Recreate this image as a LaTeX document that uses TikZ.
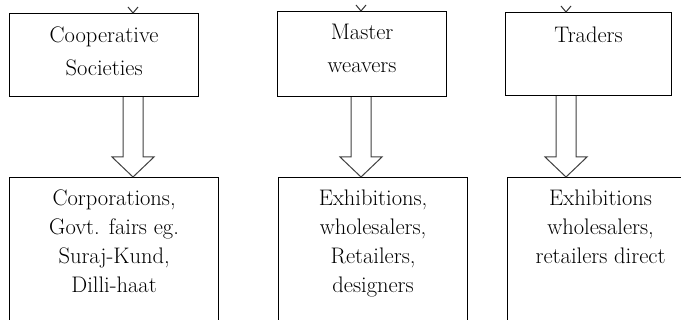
\documentclass[tikz,border=0pt]{standalone}
\usepackage{tikz}
\usetikzlibrary{positioning,calc}

\tikzset{
  box/.style={draw, line width=1.2pt, anchor=north west, inner sep=0pt},
  toptext/.style={font=\fontsize{22.5}{33}\selectfont},
  lowtext/.style={font=\fontsize{22.5}{29}\selectfont},
  hollow/.style={draw=black!75, line width=1pt, fill=white,
    to path={let \p1=(\tikztostart), \p2=(\tikztotarget) in
      (\x1-10pt,\y1) -- (\x1-10pt,\y2+20pt) -- (\x1-21pt,\y2+20pt) -- (\x2,\y2)
      -- (\x1+21pt,\y2+20pt) -- (\x1+10pt,\y2+20pt) -- (\x1+10pt,\y1)}},
  stub/.style={draw=black!80, line width=1pt}
}

\begin{document}
\begin{tikzpicture}[x=1pt, y=-1pt]
    \useasboundingbox (0,0) rectangle (681,320);
    \clip (0,0) rectangle (681,320);

    % sources
    \node[box, minimum width=189pt, minimum height=83pt,
          label={[toptext, align=center, anchor=north, inner sep=0pt, yshift=-14pt]north:Cooperative\\Societies}]
          (coop) at (9,13) {};
    \node[box, minimum width=169pt, minimum height=85pt,
          label={[toptext, align=center, anchor=north, inner sep=0pt, yshift=-13pt]north:Master\\weavers}]
          (master) at (277,11) {};
    \node[box, minimum width=166pt, minimum height=83pt,
          label={[toptext, align=center, anchor=north, inner sep=0pt, yshift=-15pt]north:Traders}]
          (traders) at (505,12) {};

    % outlets
    \node[box, minimum width=209pt, minimum height=160pt,
          label={[lowtext, align=center, anchor=north, inner sep=0pt, yshift=-13pt]north:Corporations,\\Govt. fairs eg.\\Suraj-Kund,\\Dilli-haat}]
          (corp) at (9,177) {};
    \node[box, minimum width=189pt, minimum height=160pt,
          label={[lowtext, align=center, anchor=north, inner sep=0pt, yshift=-13pt]north:Exhibitions,\\wholesalers,\\Retailers,\\designers}]
          (exhib) at (278,177) {};
    \node[box, minimum width=186pt, minimum height=160pt,
          label={[lowtext, align=center, anchor=north, inner sep=0pt, yshift=-13pt]north:Exhibitions\\wholesalers,\\retailers direct}]
          (direct) at (507,177) {};

    % arrow axes
    \coordinate (a1) at (133,0);
    \coordinate (a2) at (361,0);
    \coordinate (a3) at (566,0);

    \draw[hollow] (coop.south -| a1) to (corp.north -| a1);
    \draw[hollow] (master.south -| a2) to (exhib.north -| a2);
    \draw[hollow] (traders.south -| a3) to (direct.north -| a3);

    % cut-off tips above
    \draw[stub] (coop.north -| a1) ++(-5,-6) -- ++(5,6) -- ++(5,-6);
    \draw[stub] (master.north -| a2) ++(-5,-6) -- ++(5,6) -- ++(5,-6);
    \draw[stub] (traders.north -| a3) ++(-5,-6) -- ++(5,6) -- ++(5,-6);
\end{tikzpicture}
\end{document}
